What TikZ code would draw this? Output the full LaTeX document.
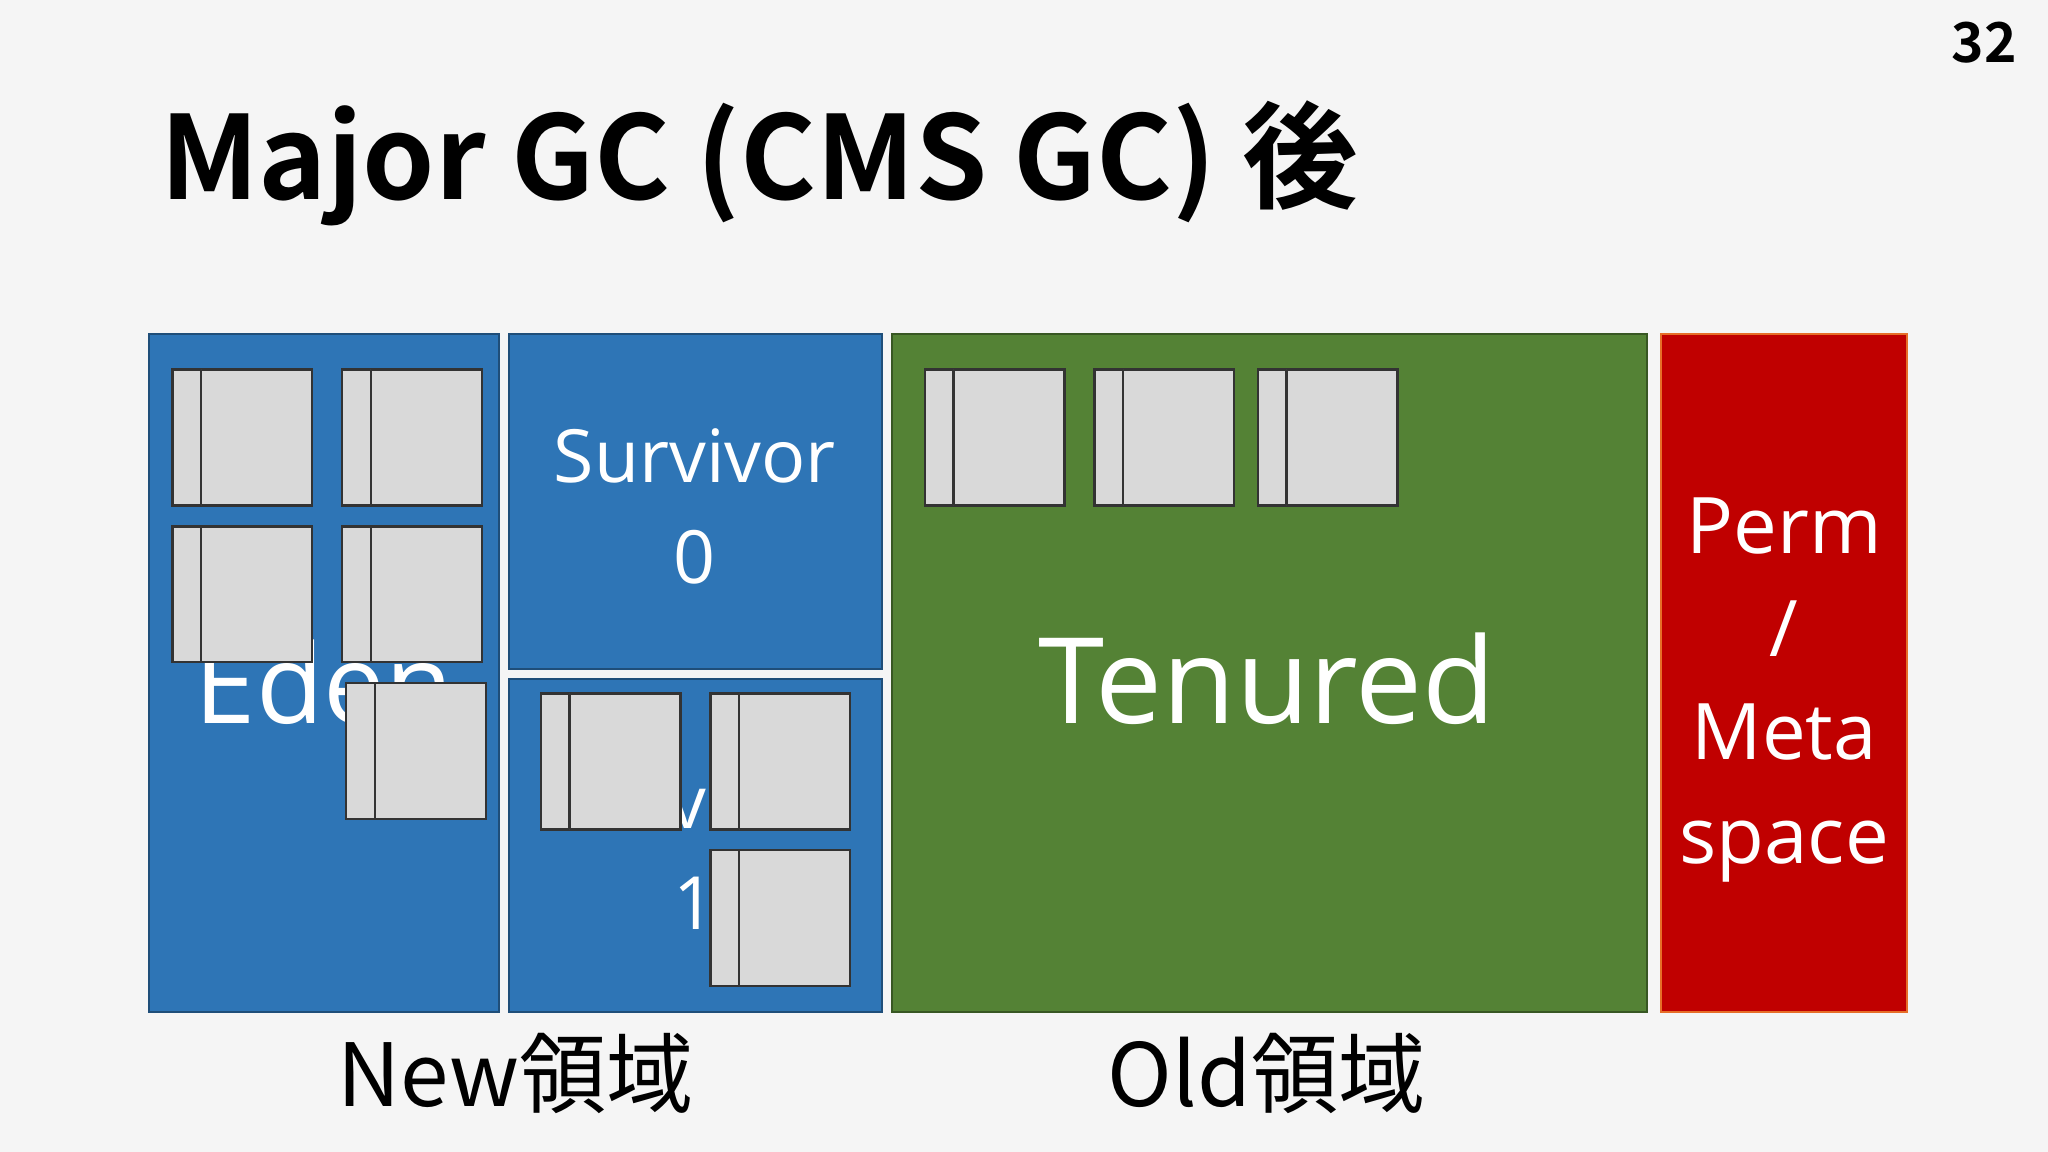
\documentclass[tikz,border=0pt]{standalone}
\usepackage{fontspec}
\setmainfont{Open Sans}
\newfontfamily\cjk{Noto Sans CJK JP}
\newfontfamily\cjkb{Noto Sans CJK JP Bold}
\definecolor{bl}{RGB}{46,117,182}
\definecolor{bld}{RGB}{31,78,121}
\definecolor{gr}{RGB}{84,130,53}
\definecolor{grd}{RGB}{56,87,35}
\definecolor{rd}{RGB}{192,0,0}
\definecolor{rdb}{RGB}{230,110,40}
\begin{document}
\begin{tikzpicture}[x=0.1mm,y=-0.1mm,
  lbl/.style 2 args={text=white,font=\fontsize{#1}{#2}\selectfont,align=center},
  obj/.style={draw=black!80,fill=black!15,line width=0.5pt}]
\fill[black!4] (0,0) rectangle (1568,882);
\useasboundingbox (0,0) rectangle (1568,882);
\node[font=\cjkb\fontsize{12}{12}\selectfont] (pg) at (1519,33) {32};
\node[font=\cjkb\fontsize{25.2}{25.2}\selectfont,anchor=west,inner sep=0] (title) at (122,125) {Major GC (CMS GC) 後};
\filldraw[draw=bld,fill=bl] (114,256) rectangle (382,775);
\filldraw[draw=bld,fill=bl] (390,256) rectangle (675,512);
\filldraw[draw=bld,fill=bl] (390,520) rectangle (675,775);
\filldraw[draw=grd,fill=gr] (683,256) rectangle (1261,775);
\filldraw[draw=rdb,fill=rd] (1272,256) rectangle (1460,775);
\node[lbl={24pt}{24pt}] (eden) at (248,522) {Eden};
\node[lbl={16pt}{22pt}] (s0) at (532,388) {Survivor\\0};
\node[lbl={16pt}{22pt}] (s1) at (532,652) {Survivor\\1};
\node[lbl={26pt}{26pt}] (ten) at (970,520) {Tenured};
\node[lbl={17pt}{22.5pt}] (perm) at (1366,528) {Perm\\/\\Meta\\space};
\foreach \x/\y in {132/283,262/283,132/403,262/403,265/523,414/531,544/531,544/651,708/283,838/283,963/283}{
  \filldraw[obj] (\x,\y) rectangle ++(107,104);
  \draw[obj] (\x+22,\y) -- (\x+22,\y+104);
}
\node[font=\cjk\fontsize{19}{19}\selectfont] (new) at (395,822) {New領域};
\node[font=\cjk\fontsize{19}{19}\selectfont] (old) at (970,822) {Old領域};
\end{tikzpicture}
\end{document}
